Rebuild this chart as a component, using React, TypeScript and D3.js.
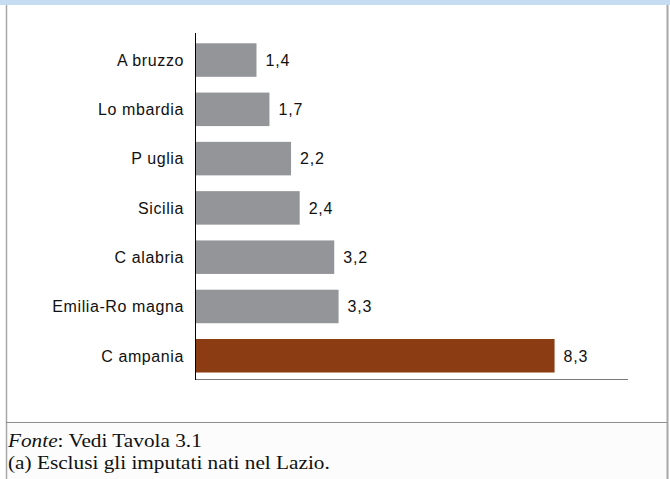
import React from "react";
import * as d3 from "d3";

const categories = ["A bruzzo", "Lo mbardia", "P uglia", "Sicilia", "C alabria", "Emilia-Ro magna", "C ampania"];
const values = [1.4, 1.7, 2.2, 2.4, 3.2, 3.3, 8.3];
const highlight = ["C ampania"];
const valueLabels = ["1,4", "1,7", "2,2", "2,4", "3,2", "3,3", "8,3"];
const footnoteSource = "Fonte";
const footnoteSourceRest = ": Vedi Tavola 3.1";
const footnoteA = "(a) Esclusi gli imputati nati nel Lazio.";

const W = 670;
const H = 479;

export default function App() {
  const x = d3.scaleLinear().domain([0, 10]).range([196, 628]);
  const y = d3.scaleBand<string>().domain(categories).range([35.4, 380.4]).paddingInner(0.32).paddingOuter(0.16);
  const sans = "'Liberation Sans', Arial, sans-serif";
  const serif = "'Liberation Serif', 'Times New Roman', serif";
  return (
    <svg width={W} height={H} style={{ position: "absolute", left: 0, top: 0, background: "#fff" }}>
      <rect x={0} y={0} width={W} height={5} fill="#c5dcf2" />
      <rect x={6} y={423} width={661} height={H - 423} fill="#fcfcfc" />
      <line x1={6.5} y1={5} x2={6.5} y2={H} stroke="#a8a8a8" strokeWidth={1.5} />
      <line x1={667.5} y1={5} x2={667.5} y2={H} stroke="#a8a8a8" strokeWidth={2} />
      <line x1={6} y1={422.5} x2={667} y2={422.5} stroke="#8c8c8c" strokeWidth={1} />
      {categories.map((c, i) => (
        <g key={c}>
          <rect
            x={x(0)}
            y={y(c)}
            width={x(values[i]) - x(0)}
            height={y.bandwidth()}
            fill={highlight.includes(c) ? "#8c3c12" : "#939598"}
          />
          <text
            x={184}
            y={(y(c) as number) + y.bandwidth() / 2}
            dy="0.36em"
            textAnchor="end"
            fontFamily={sans}
            fontSize={16}
            letterSpacing={0.6}
            fill="#111"
          >
            {c}
          </text>
          <text
            x={x(values[i]) + 9}
            y={(y(c) as number) + y.bandwidth() / 2}
            dy="0.36em"
            fontFamily={sans}
            fontSize={16}
            letterSpacing={0.8}
            fill="#111"
          >
            {valueLabels[i]}
          </text>
        </g>
      ))}
      <line x1={x(0)} y1={379.5} x2={x(10)} y2={379.5} stroke="#7a7a7a" strokeWidth={1.2} />
      <line x1={x(0) - 0.5} y1={33} x2={x(0) - 0.5} y2={380} stroke="#000" strokeWidth={1} />
      <text transform="translate(8,447) scale(1.12,1)" fontFamily={serif} fontSize={19} fill="#111">
        <tspan fontStyle="italic">{footnoteSource}</tspan>
        <tspan>{footnoteSourceRest}</tspan>
      </text>
      <text transform="translate(8,469) scale(1.12,1)" fontFamily={serif} fontSize={19} fill="#111">
        {footnoteA}
      </text>
    </svg>
  );
}
